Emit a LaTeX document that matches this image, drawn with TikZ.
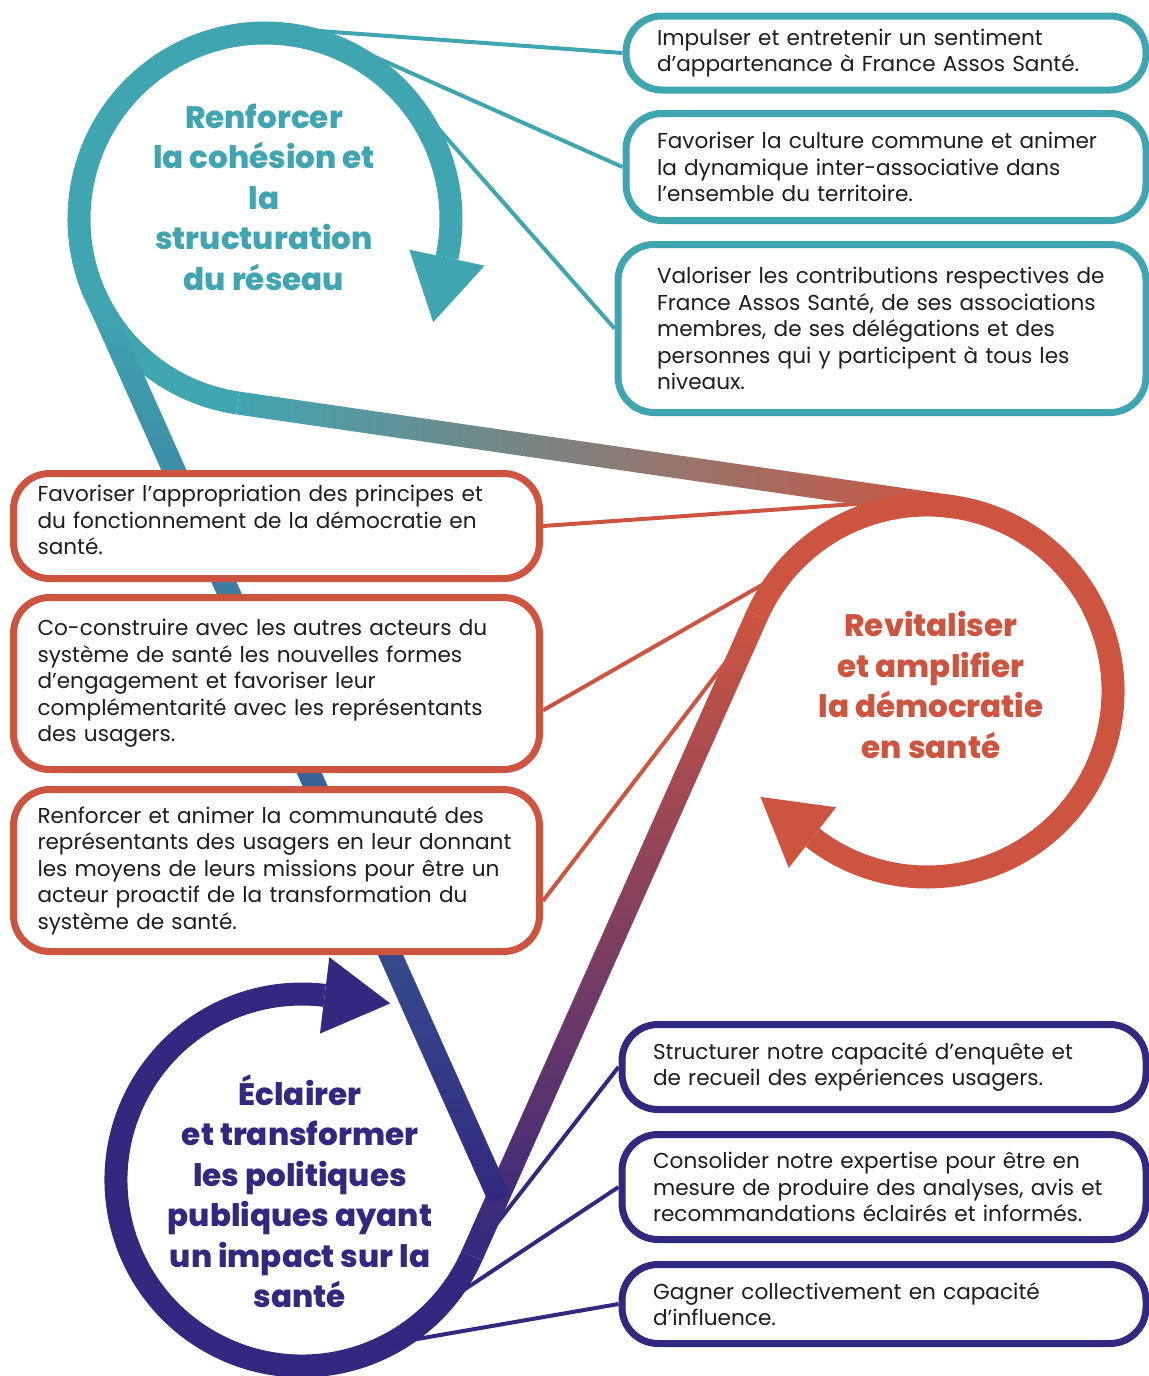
\documentclass[tikz,border=0pt]{standalone}
\usepackage{fontspec}
\setmainfont{Poppins}
\newfontfamily\loopface{Poppins ExtraBold}
\usetikzlibrary{calc}
\pgfdeclarelayer{links}
\pgfdeclarelayer{loops}
\pgfsetlayers{links,loops,main}

\definecolor{fasteal}{HTML}{3FA5B1}
\definecolor{fasred}{HTML}{CD5540}
\definecolor{fasindigo}{HTML}{31287F}
\definecolor{fastext}{HTML}{1D1D1B}

\newcommand{\goalfont}{\fontsize{10.8}{13.25}\selectfont}
\newcommand{\loopfont}{\fontsize{15.5}{20.25}\selectfont\loopface}

\begin{document}
\begin{tikzpicture}[x=0.5pt, y=-0.5pt,
    goal/.style={draw, fill=white, line width=3.5pt, rounded corners=18pt,
      align=left, inner ysep=0pt, font=\goalfont, text=fastext},
    tealgoal/.style={goal, draw=fasteal, inner xsep=15.5pt, text width=229pt},
    redgoal/.style={goal, draw=fasred, inner xsep=12pt, text width=239pt},
    bluegoal/.style={goal, draw=fasindigo, inner xsep=15.5pt, text width=231pt},
    title/.style={align=center, font=\loopfont},
    ring/.style={line width=11.5pt},
    link/.style={line width=2pt}]
  \useasboundingbox (0,0) rectangle (1148,1376);

  % centres of the three loops
  \coordinate (cT) at (265,219);
  \coordinate (cR) at (927,691);
  \coordinate (cB) at (302,1180);

  % where the wide bands meet the loops
  \coordinate (tb) at ($(cT)+(98.3:186)$);
  \coordinate (rt) at ($(cR)+(278.3:186)$);
  \coordinate (rl) at ($(cR)+(204:186)$);
  \coordinate (br) at ($(cB)+(24:186)$);
  \coordinate (tl) at ($(cT)+(152:186)$);
  \coordinate (bend) at (500,1200);

  % goals
  \node[tealgoal, minimum height=37pt] (t1) at (886,53)
    {Impulser et entretenir un sentiment\\d’appartenance à France Assos Santé.};
  \node[tealgoal, minimum height=53.5pt] (t2) at (886,167)
    {Favoriser la culture commune et animer\\la dynamique inter-associative dans\\l’ensemble du territoire.};
  \node[tealgoal, inner xsep=19.5pt, text width=225pt, minimum height=84pt] (t3) at (882,328.5)
    {Valoriser les contributions respectives de\\France Assos Santé, de ses associations\\membres, de ses délégations et des\\personnes qui y participent à tous les\\niveaux.};

  \node[redgoal, minimum height=52.5pt] (r1) at (276.5,526)
    {Favoriser l’appropriation des principes et\\du fonctionnement de la démocratie en\\santé.\vspace{6pt}};
  \node[redgoal, minimum height=86pt] (r2) at (276.5,683.5)
    {Co-construire avec les autres acteurs du\\système de santé les nouvelles formes\\d’engagement et favoriser leur\\complémentarité avec les représentants\\des usagers.};
  \node[redgoal, minimum height=81pt] (r3) at (276.5,870.5)
    {Renforcer et animer la communauté des\\représentants des usagers en leur donnant\\les moyens de leurs missions pour être un\\acteur proactif de la transformation du\\système de santé.};

  \node[bluegoal, minimum height=42.5pt] (b1) at (884,1067)
    {Structurer notre capacité d’enquête et\\de recueil des expériences usagers.};
  \node[bluegoal, minimum height=52.5pt] (b2) at (884,1187)
    {Consolider notre expertise pour être en\\mesure de produire des analyses, avis et\\recommandations éclairés et informés.};
  \node[bluegoal, minimum height=39.5pt] (b3) at (884,1304)
    {Gagner collectivement en capacité\\d’influence.};

  % loop titles
  \node[title, text=fasteal] (tT) at (264,197)
    {Renforcer\\la cohésion et\\la\\structuration\\du réseau};
  \node[title, text=fasred] (tR) at (931,685)
    {Revitaliser\\et amplifier\\la démocratie\\en santé};
  \node[title, text=fasindigo] (tB) at (300,1191)
    {Éclairer\\et transformer\\les politiques\\publiques ayant\\un impact sur la\\santé};

  \begin{pgfonlayer}{links}
    \foreach \a/\n in {281.5/t1, 291/t2, 329/t3}
      \draw[link, fasteal] ($(cT)+(\a:193)$) coordinate (l\n) -- (\n.west);
    \draw[link, fasred] ($(cR)+(259:193)$) coordinate (lr1) -- (r1.east);
    \draw[link, fasred] ($(cR)+(214.6:193)$) coordinate (lr2)
      -- ($(r2.north east)!0.65!(r2.south east)$);
    \draw[link, fasred] ($(cR)+(194.2:193)$) coordinate (lr3)
      -- ($(r3.north east)!0.68!(r3.south east)$);
    \foreach \a/\n in {17.1/b1, 36.2/b2, 56.2/b3}
      \draw[link, fasindigo] ($(cB)+(\a:193)$) coordinate (l\n) -- (\n.west);
  \end{pgfonlayer}

  \begin{pgfonlayer}{loops}
    % wide bands between the loops
    \shade[left color=fasteal, right color=fasred]
      ($(tb)!5.75pt!90:(rt)$) -- ($(rt)!5.75pt!-90:(tb)$)
      -- ($(rt)!5.75pt!90:(tb)$) -- ($(tb)!5.75pt!-90:(rt)$) -- cycle;
    \shade[top color=fasred, bottom color=fasindigo]
      ($(rl)!5.75pt!90:(br)$) -- ($(br)!5.75pt!-90:(rl)$)
      -- ($(br)!5.75pt!90:(rl)$) -- ($(rl)!5.75pt!-90:(br)$) -- cycle;
    % loops
    \draw[ring, fasteal] (tb) arc[start angle=98.3, end angle=372, radius=186];
    \draw[ring, fasred] (rl) arc[start angle=204, end angle=488, radius=186];
    \draw[ring, fasindigo] (br) arc[start angle=24, end angle=277, radius=186];
    \shade[top color=fasteal, bottom color=fasindigo]
      ($(tl)!5.75pt!90:(bend)$) -- ($(bend)!5.75pt!-90:(tl)$)
      -- ($(bend)!5.75pt!90:(tl)$) -- ($(tl)!5.75pt!-90:(bend)$) -- cycle;
    % arrow heads
    \foreach \c/\a/\col in {cT/372/fasteal, cR/488/fasred, cB/277/fasindigo}
      \fill[\col] ($(\c)+(\a:224.5)$) -- ($(\c)+(\a:147.5)$)
        -- ($(\c)+(\a:186)+(\a+90:66)$) -- cycle;
  \end{pgfonlayer}
\end{tikzpicture}
\end{document}
